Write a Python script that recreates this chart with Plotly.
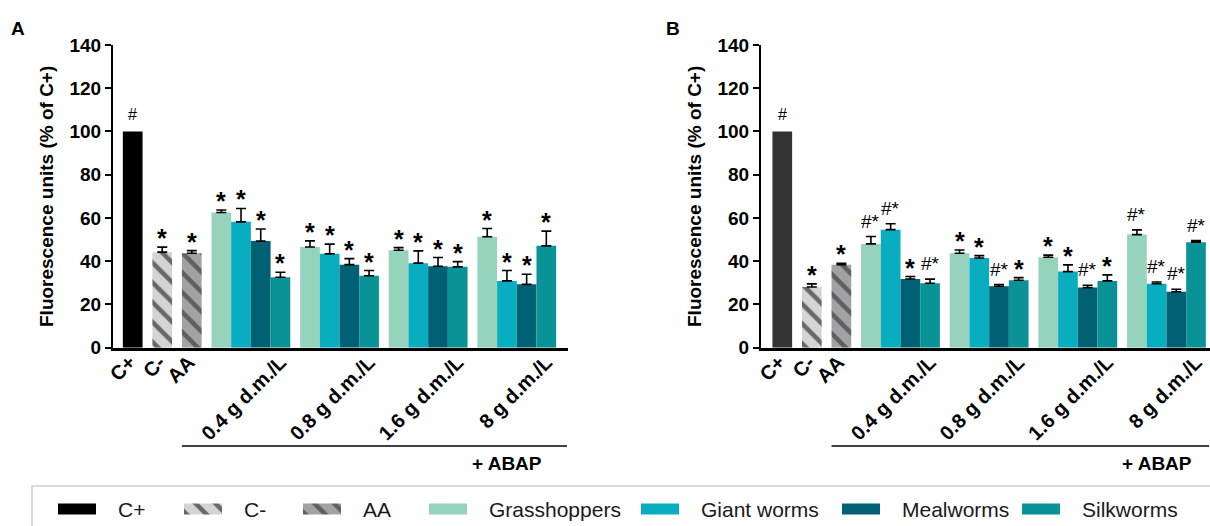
import plotly.graph_objects as go

# ---------------- data ----------------
controls = ["C+", "C-", "AA"]
concentrations = ["0.4 g d.m./L", "0.8 g d.m./L", "1.6 g d.m./L", "8 g d.m./L"]
insects = ["Grasshoppers", "Giant worms", "Mealworms", "Silkworms"]

# Panel A
a_controls = [100.0, 44.2, 43.7]
a_controls_err = [0.0, 2.3, 1.2]
a_grasshoppers = [62.5, 46.6, 45.1, 51.3]
a_grasshoppers_err = [1.2, 2.8, 1.2, 3.8]
a_giant_worms = [58.2, 43.4, 39.1, 30.9]
a_giant_worms_err = [6.2, 4.5, 5.7, 4.8]
a_mealworms = [49.3, 38.4, 37.7, 29.3]
a_mealworms_err = [5.6, 2.8, 4.0, 4.7]
a_silkworms = [32.6, 33.3, 37.4, 47.1]
a_silkworms_err = [2.3, 2.4, 2.4, 6.8]

# Panel B
b_controls = [100.0, 28.1, 38.4]
b_controls_err = [0.0, 1.4, 0.6]
b_grasshoppers = [48.0, 43.7, 41.8, 52.3]
b_grasshoppers_err = [3.4, 1.5, 1.0, 2.2]
b_giant_worms = [54.6, 41.5, 35.2, 29.6]
b_giant_worms_err = [2.7, 1.1, 3.1, 0.8]
b_mealworms = [31.8, 28.4, 27.8, 25.9]
b_mealworms_err = [1.1, 0.8, 1.1, 1.1]
b_silkworms = [29.8, 31.2, 30.9, 48.8]
b_silkworms_err = [1.9, 1.2, 2.8, 0.7]

# significance marks
a_sig_controls = ["#", "*", "*"]
a_sig_insects = [["*", "*", "*", "*"], ["*", "*", "*", "*"],
                 ["*", "*", "*", "*"], ["*", "*", "*", "*"]]
b_sig_controls = ["#", "*", "*"]
b_sig_insects = [["#*", "*", "*", "#*"], ["#*", "*", "*", "#*"],
                 ["*", "#*", "#*", "#*"], ["#*", "*", "*", "#*"]]

y_ticks = [0, 20, 40, 60, 80, 100, 120, 140]
y_title = "Fluorescence units (% of C+)"
group_label = "+ ABAP"

# ---------------- styles / layout ----------------
W, H = 1210, 526
FONT = "Liberation Sans, Arial, sans-serif"
insect_colors = ["#96d3bd", "#08aec0", "#006174", "#0a9396"]
ctrl_styles = {
    "C+": dict(bg=None, fg=None),
    "C-": dict(bg="#d4d4d4", fg="#676767"),
    "AA": dict(bg="#a2a2a4", fg="#5f5f5f"),
}
cplus_color = {"A": "#000000", "B": "#333333"}

control_x = [0.0, 1.5, 3.0]


def insect_x(i):
    return [4.5 + 4.5 * g + i for g in range(len(concentrations))]


def px_x(p):
    return p / W


def px_y(p):
    return 1 - p / H


y_domain = [px_y(347.7), px_y(45)]
x_domains = {"A": [px_x(113), px_x(568)], "B": [px_x(761), px_x(1210)]}
x_ranges = {"A": [-1.0, 22.1], "B": [-1.08, 21.71]}

fig = go.Figure()
annotations = []
shapes = []

panels = [
    ("A", "x", "y", a_controls, a_controls_err,
     [a_grasshoppers, a_giant_worms, a_mealworms, a_silkworms],
     [a_grasshoppers_err, a_giant_worms_err, a_mealworms_err, a_silkworms_err],
     a_sig_controls, a_sig_insects),
    ("B", "x2", "y2", b_controls, b_controls_err,
     [b_grasshoppers, b_giant_worms, b_mealworms, b_silkworms],
     [b_grasshoppers_err, b_giant_worms_err, b_mealworms_err, b_silkworms_err],
     b_sig_controls, b_sig_insects),
]

err_style = dict(type="data", symmetric=False, color="black", thickness=1.6, width=5)


def sig_annotation(label, x, y, xref, yref):
    if label == "*":
        font = dict(family=FONT, size=25, color="black", weight="bold")
        ys = -7
        text = "*"
    elif label == "#":
        font = dict(family=FONT, size=16, color="black")
        ys = 6
        text = "#"
    else:
        font = dict(family=FONT, size=19, color="black")
        ys = 3
        text = label
    return dict(text=text, x=x, y=y, xref=xref, yref=yref, showarrow=False,
                xanchor="center", yanchor="bottom", yshift=ys, font=font)


for (pname, xa, ya, cvals, cerr, ivals, ierr, csig, isig) in panels:
    # controls
    for k, cname in enumerate(controls):
        st = ctrl_styles[cname]
        if cname == "C+":
            marker = dict(color=cplus_color[pname], line=dict(width=0))
            ebar = dict(visible=False)
        else:
            marker = dict(color=st["bg"], line=dict(width=0),
                          pattern=dict(shape="\\", fgcolor=st["fg"], bgcolor=st["bg"],
                                       size=14, solidity=0.32, fillmode="replace"))
            ebar = dict(err_style, array=[cerr[k]], arrayminus=[0])
        fig.add_trace(go.Bar(x=[control_x[k]], y=[cvals[k]], width=1, marker=marker,
                             error_y=ebar, xaxis=xa, yaxis=ya, showlegend=False,
                             name=cname))
        top = cvals[k] + (cerr[k] or 0)
        annotations.append(sig_annotation(csig[k], control_x[k], top, xa, ya))
    # insects
    for i, iname in enumerate(insects):
        xs = insect_x(i)
        fig.add_trace(go.Bar(x=xs, y=ivals[i], width=1,
                             marker=dict(color=insect_colors[i], line=dict(width=0)),
                             error_y=dict(err_style, array=ierr[i],
                                          arrayminus=[0] * len(xs)),
                             xaxis=xa, yaxis=ya, showlegend=False, name=iname))
        for g, xv in enumerate(xs):
            annotations.append(sig_annotation(isig[i][g], xv, ivals[i][g] + ierr[i][g], xa, ya))

    # "+ ABAP" bracket line and label
    shapes.append(dict(type="line", xref=xa, yref="paper", x0=2.5,
                       x1=x_ranges[pname][1] - 0.05, y0=px_y(446), y1=px_y(446),
                       line=dict(color="black", width=1.5)))
    annotations.append(dict(text="<b>" + group_label + "</b>", x=19.0, xref=xa,
                            y=px_y(463), yref="paper", showarrow=False,
                            xanchor="center", yanchor="middle",
                            font=dict(family=FONT, size=19, color="black")))
    # panel letter
    lx = 18 if pname == "A" else 673
    annotations.append(dict(text="<b>" + pname + "</b>", x=px_x(lx), y=px_y(28),
                            xref="paper", yref="paper", showarrow=False,
                            xanchor="center", yanchor="middle",
                            font=dict(family=FONT, size=19, color="black")))
    # y title
    tx = 47 if pname == "A" else 695
    annotations.append(dict(text="<b>" + y_title + "</b>", x=px_x(tx), y=px_y(197),
                            xref="paper", yref="paper", showarrow=False,
                            textangle=-90, xanchor="center", yanchor="middle",
                            font=dict(family=FONT, size=19, color="black")))

# axes
tickvals = [v - 0.15 for v in control_x] + [insect_x(3)[g] for g in range(len(concentrations))]
ticktext = controls + concentrations
for pname, xkey, ykey, anchor_x, anchor_y in [("A", "xaxis", "yaxis", "y", "x"),
                                             ("B", "xaxis2", "yaxis2", "y2", "x2")]:
    fig.layout[xkey] = dict(domain=x_domains[pname], range=x_ranges[pname], anchor=anchor_x,
                            showline=True, linewidth=3, linecolor="black", ticks="",
                            showgrid=False, zeroline=False, tickmode="array",
                            tickvals=tickvals, ticktext=ticktext, tickangle=-45,
                            ticklabeloverflow="allow", ticklabelstandoff=-8,
                            tickfont=dict(family=FONT, size=20, color="black", weight="bold"))
    fig.layout[ykey] = dict(domain=y_domain, range=[0, 140], anchor=anchor_y,
                            showline=True, linewidth=2, linecolor="black",
                            ticks="outside", ticklen=6, tickwidth=2, tickcolor="black",
                            tickmode="array", tickvals=y_ticks,
                            showgrid=False, zeroline=False,
                            tickfont=dict(family=FONT, size=19, color="black", weight="bold"))

# ---------------- legend (drawn in a pixel-scaled strip) ----------------
legend_swatch_x = [58, 184, 303, 429, 641, 842, 1022]
legend_y = 509
swatch_w, swatch_h = 38, 11
legend_names = controls + insects
for k, name in enumerate(legend_names):
    if name == "C+":
        marker = dict(color="#000000", line=dict(width=0))
    elif name in ctrl_styles:
        st = ctrl_styles[name]
        marker = dict(color=st["bg"], line=dict(width=0),
                      pattern=dict(shape="\\", fgcolor=st["fg"], bgcolor=st["bg"],
                                   size=14, solidity=0.32, fillmode="replace"))
    else:
        marker = dict(color=insect_colors[insects.index(name)], line=dict(width=0))
    fig.add_trace(go.Bar(orientation="h", y=[legend_y], x=[swatch_w],
                         base=[legend_swatch_x[k]], width=swatch_h, marker=marker,
                         xaxis="x3", yaxis="y3", showlegend=False, hoverinfo="skip"))
    annotations.append(dict(text=name, x=px_x(legend_swatch_x[k] + swatch_w + 20),
                            y=px_y(legend_y), xref="paper", yref="paper",
                            showarrow=False, xanchor="left", yanchor="middle",
                            font=dict(family=FONT, size=21, color="#1a1a1a")))

fig.layout["xaxis3"] = dict(domain=[0, 1], range=[0, W], anchor="y3", visible=False,
                            fixedrange=True)
fig.layout["yaxis3"] = dict(domain=[0, px_y(486)], range=[H, 486], anchor="x3",
                            visible=False, fixedrange=True)
shapes.append(dict(type="rect", xref="paper", yref="paper", x0=px_x(32), x1=1.05,
                   y0=-0.1, y1=px_y(486), line=dict(color="#d0d0d0", width=1.5),
                   fillcolor="rgba(0,0,0,0)", layer="below"))

fig.update_layout(
    width=W, height=H, margin=dict(l=0, r=0, t=0, b=0),
    template="none", barmode="overlay",
    paper_bgcolor="white", plot_bgcolor="rgba(0,0,0,0)",
    showlegend=False, annotations=annotations, shapes=shapes,
    font=dict(family=FONT, color="black"),
)

fig.write_html("out.html", config={"displayModeBar": False},
               post_script="document.body.style.margin='0';document.body.style.overflow='hidden';")
